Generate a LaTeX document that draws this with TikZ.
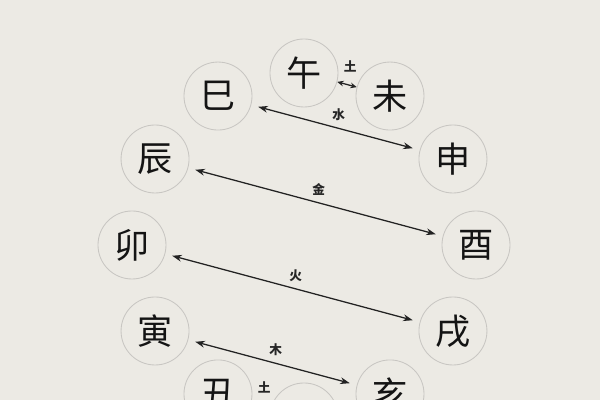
\documentclass[tikz,border=0pt]{standalone}
\usepackage{fontspec}
\newfontfamily\cjk{Noto Sans CJK SC}
\usetikzlibrary{arrows.meta}
\definecolor{papier}{RGB}{236,234,228}
\definecolor{rand}{RGB}{200,198,194}
\definecolor{pfeil}{RGB}{34,34,34}

\begin{document}
\begin{tikzpicture}[
	zweig/.style={circle, draw=rand, line width=0.6pt, minimum size=1.7cm, inner sep=0pt, font=\cjk\fontsize{25}{25}\selectfont, text=black!92},
	paar/.style={>={Stealth[length=2.4mm,width=1.7mm]}, <->, color=pfeil, line width=0.9pt, shorten >=1.8mm, shorten <=1.8mm},
	kurz/.style={>={Stealth[length=1.6mm,width=1.4mm]}, <->, color=pfeil, line width=0.9pt},
	element/.style={above=1pt, xshift=0.8mm, font=\cjk\bfseries\fontsize{9}{9}\selectfont, text=black!85}]
	% Hintergrund
	\clip (-7.6,-3.875) rectangle (7.4,6.125);
	\fill[papier] (-7.6,-3.875) rectangle (7.4,6.125);
	% Zwoelf Zweige im Kreis
	\foreach \name/\winkel/\zeichen in {wu/90/午, wei/60/未, shen/30/申, you/0/酉, xu/-30/戌, hai/-60/亥, zi/-90/子, chou/-120/丑, yin/-150/寅, mao/180/卯, chen/150/辰, si/120/巳}
		\node[zweig] (\name) at (\winkel:4.3) {\zeichen};
	% Verbindungen mit Element
	\draw[kurz] (wu) -- node[element, above=4pt, xshift=0mm] {土} (wei);
	\draw[paar] (si) -- node[element] {水} (shen);
	\draw[paar] (chen) -- node[element] {金} (you);
	\draw[paar] (mao) -- node[element] {火} (xu);
	\draw[paar] (yin) -- node[element] {木} (hai);
	\draw[kurz] (chou) -- node[element, above=4pt, xshift=0mm] {土} (zi);
\end{tikzpicture}
\end{document}
